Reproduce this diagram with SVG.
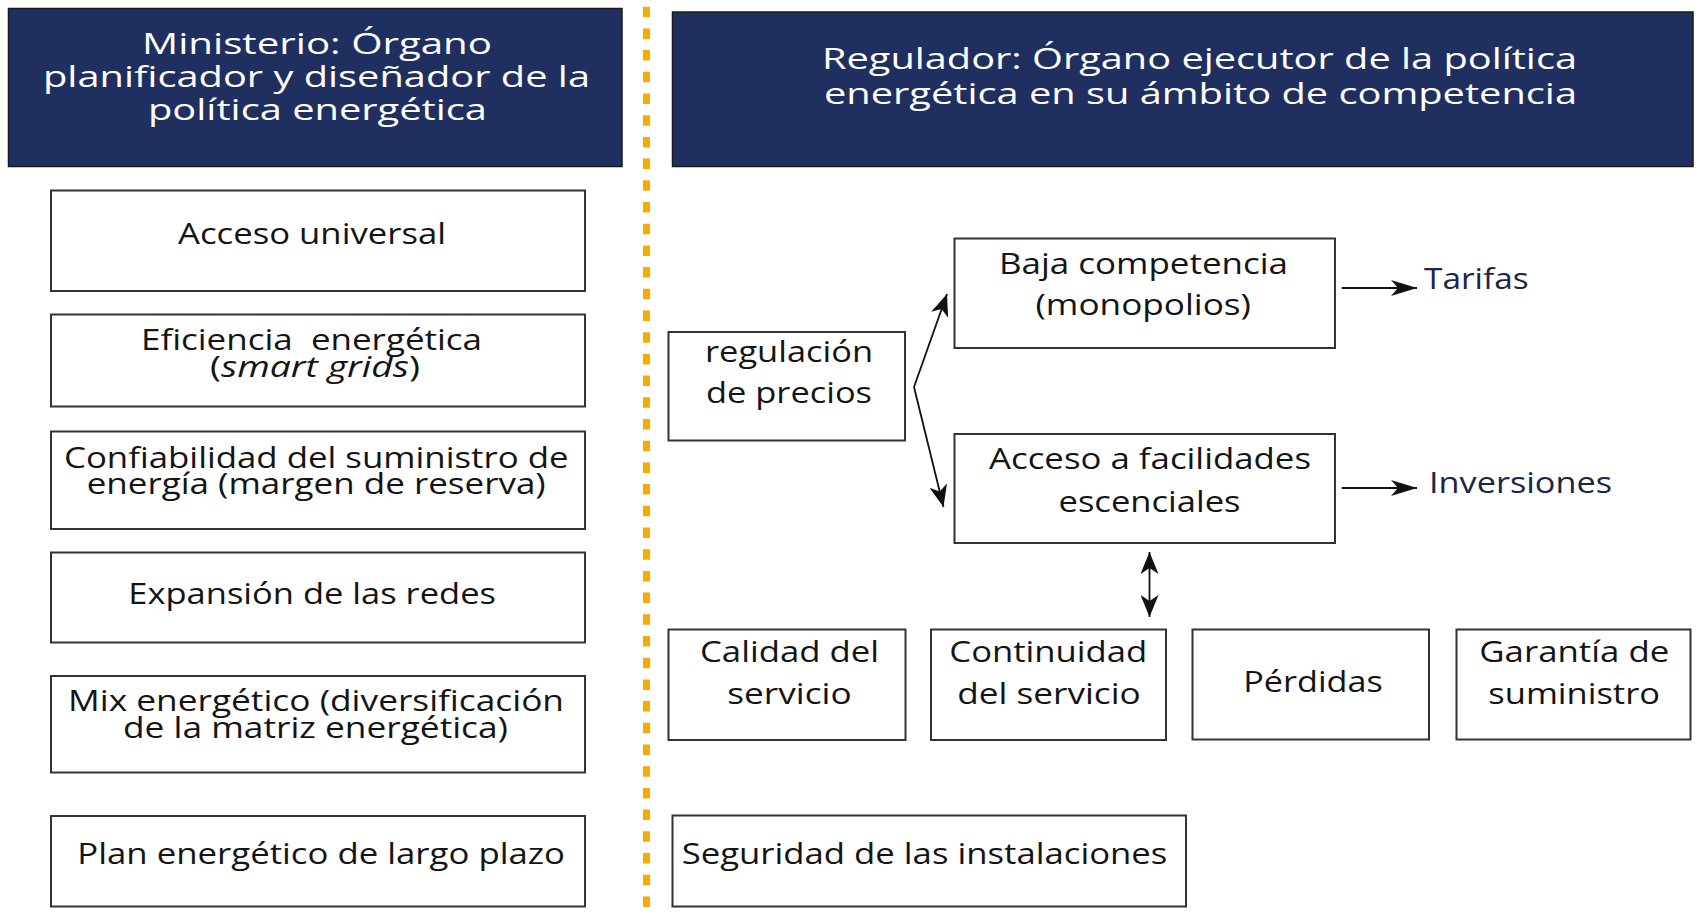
<svg xmlns="http://www.w3.org/2000/svg" width="1698" height="916" viewBox="0 0 1698 916">
<style>
  .hdr { fill: #1f2f60; stroke: #1a1a1a; stroke-width: 1.5; }
  .box { fill: #ffffff; stroke: #333333; stroke-width: 2; }
  .ht { font-family: "Open Sans", "Liberation Sans", sans-serif; font-size: 30px; fill: #ffffff; }
  .t { font-family: "Open Sans", "Liberation Sans", sans-serif; font-size: 30px; fill: #141414; }
  .lbl { font-family: "Open Sans", "Liberation Sans", sans-serif; font-size: 30px; fill: #1c2448; }
  .conn { stroke: #111111; stroke-width: 1.8; fill: none; }
  .sep { stroke: #f9aa00; stroke-width: 7; stroke-dasharray: 10.5 11.2; }
</style>
<defs>
  <marker id="ah" viewBox="0 0 26 16" refX="26" refY="8" markerWidth="26" markerHeight="16" markerUnits="userSpaceOnUse" orient="auto-start-reverse">
    <path d="M0,0 L26,8 L0,16 L7,8 Z" fill="#111111"/>
  </marker>
  <marker id="ah2" viewBox="0 0 22 18" refX="22" refY="9" markerWidth="22" markerHeight="18" markerUnits="userSpaceOnUse" orient="auto-start-reverse">
    <path d="M0,0 L22,9 L0,18 L6,9 Z" fill="#111111"/>
  </marker>
</defs>
<rect width="1698" height="916" fill="#ffffff"/>

<line class="sep" x1="646.5" y1="6.7" x2="646.5" y2="916"/>

<g id="ministerio">
  <rect class="hdr" x="8.5" y="8.5" width="613.5" height="158"/>
  <text class="ht" x="142" y="54.3" textLength="350" lengthAdjust="spacingAndGlyphs">Ministerio: Órgano</text>
  <text class="ht" x="43" y="86.7" textLength="547" lengthAdjust="spacingAndGlyphs">planificador y diseñador de la</text>
  <text class="ht" x="148" y="120" textLength="339" lengthAdjust="spacingAndGlyphs">política energética</text>
</g>

<g id="regulador">
  <rect class="hdr" x="672.5" y="12" width="1020.5" height="154.5"/>
  <text class="ht" x="822" y="69" textLength="755" lengthAdjust="spacingAndGlyphs">Regulador: Órgano ejecutor de la política</text>
  <text class="ht" x="824" y="104" textLength="753" lengthAdjust="spacingAndGlyphs">energética en su ámbito de competencia</text>
</g>

<g id="acceso-universal">
  <rect class="box" x="51" y="190.5" width="534" height="100.5"/>
  <text class="t" x="178" y="244" textLength="268" lengthAdjust="spacingAndGlyphs">Acceso universal</text>
</g>

<g id="eficiencia">
  <rect class="box" x="51" y="314.5" width="534" height="92"/>
  <text class="t" x="141" y="350" textLength="341" lengthAdjust="spacingAndGlyphs" xml:space="preserve">Eficiencia  energética</text>
  <text class="t" x="210" y="377" textLength="210" lengthAdjust="spacingAndGlyphs">(<tspan font-style="italic">smart grids</tspan>)</text>
</g>

<g id="confiabilidad">
  <rect class="box" x="51" y="431.5" width="534" height="97.5"/>
  <text class="t" x="64" y="467.5" textLength="504.5" lengthAdjust="spacingAndGlyphs">Confiabilidad del suministro de</text>
  <text class="t" x="86.7" y="494" textLength="459" lengthAdjust="spacingAndGlyphs">energía (margen de reserva)</text>
</g>

<g id="expansion">
  <rect class="box" x="51" y="552.5" width="534" height="90"/>
  <text class="t" x="128.3" y="604" textLength="367.7" lengthAdjust="spacingAndGlyphs">Expansión de las redes</text>
</g>

<g id="mix">
  <rect class="box" x="51" y="676" width="534" height="96.5"/>
  <text class="t" x="68" y="711" textLength="496" lengthAdjust="spacingAndGlyphs">Mix energético (diversificación</text>
  <text class="t" x="123" y="738" textLength="385" lengthAdjust="spacingAndGlyphs">de la matriz energética)</text>
</g>

<g id="plan">
  <rect class="box" x="51" y="816" width="534" height="90.5"/>
  <text class="t" x="77.3" y="864.3" textLength="487.7" lengthAdjust="spacingAndGlyphs">Plan energético de largo plazo</text>
</g>

<g id="regulacion-precios">
  <rect class="box" x="668.5" y="332" width="236.5" height="108.5"/>
  <text class="t" x="705" y="361.7" textLength="168" lengthAdjust="spacingAndGlyphs">regulación</text>
  <text class="t" x="706" y="402.7" textLength="166" lengthAdjust="spacingAndGlyphs">de precios</text>
</g>

<g id="baja-competencia">
  <rect class="box" x="954.5" y="238.5" width="380.5" height="109.5"/>
  <text class="t" x="999" y="274" textLength="289" lengthAdjust="spacingAndGlyphs">Baja competencia</text>
  <text class="t" x="1035.5" y="315" textLength="215.5" lengthAdjust="spacingAndGlyphs">(monopolios)</text>
</g>

<g id="acceso-facilidades">
  <rect class="box" x="954.5" y="434" width="380.5" height="109"/>
  <text class="t" x="989" y="469" textLength="322" lengthAdjust="spacingAndGlyphs">Acceso a facilidades</text>
  <text class="t" x="1058.5" y="511.7" textLength="182" lengthAdjust="spacingAndGlyphs">escenciales</text>
</g>

<g id="tarifas">
  <text class="lbl" x="1424" y="289" textLength="104.7" lengthAdjust="spacingAndGlyphs">Tarifas</text>
</g>

<g id="inversiones">
  <text class="lbl" x="1429" y="492.7" textLength="183" lengthAdjust="spacingAndGlyphs">Inversiones</text>
</g>

<g id="calidad">
  <rect class="box" x="668.5" y="629.5" width="237" height="110.5"/>
  <text class="t" x="700" y="661.7" textLength="179" lengthAdjust="spacingAndGlyphs">Calidad del</text>
  <text class="t" x="727.3" y="704.3" textLength="124.4" lengthAdjust="spacingAndGlyphs">servicio</text>
</g>

<g id="continuidad">
  <rect class="box" x="931" y="629.5" width="235" height="110.5"/>
  <text class="t" x="949.3" y="661.7" textLength="198" lengthAdjust="spacingAndGlyphs">Continuidad</text>
  <text class="t" x="957.3" y="704.3" textLength="183.4" lengthAdjust="spacingAndGlyphs">del servicio</text>
</g>

<g id="perdidas">
  <rect class="box" x="1192.5" y="629.5" width="236.5" height="110"/>
  <text class="t" x="1243.3" y="691.7" textLength="139.4" lengthAdjust="spacingAndGlyphs">Pérdidas</text>
</g>

<g id="garantia">
  <rect class="box" x="1456.5" y="629.5" width="234" height="110"/>
  <text class="t" x="1479.3" y="661.7" textLength="190" lengthAdjust="spacingAndGlyphs">Garantía de</text>
  <text class="t" x="1488.3" y="704.3" textLength="171.7" lengthAdjust="spacingAndGlyphs">suministro</text>
</g>

<g id="seguridad">
  <rect class="box" x="672.5" y="815.5" width="513.5" height="91"/>
  <text class="t" x="681.7" y="864" textLength="485.7" lengthAdjust="spacingAndGlyphs">Seguridad de las instalaciones</text>
</g>

<g id="connectors">
  <line class="conn" x1="914" y1="387" x2="947" y2="294" marker-end="url(#ah2)"/>
  <line class="conn" x1="914" y1="387" x2="943.5" y2="507" marker-end="url(#ah2)"/>
  <line class="conn" x1="1341.7" y1="288" x2="1417" y2="288" marker-end="url(#ah)"/>
  <line class="conn" x1="1341.7" y1="488" x2="1417" y2="488" marker-end="url(#ah)"/>
  <line class="conn" x1="1149.5" y1="552" x2="1149.5" y2="617" marker-start="url(#ah2)" marker-end="url(#ah2)"/>
</g>
</svg>
